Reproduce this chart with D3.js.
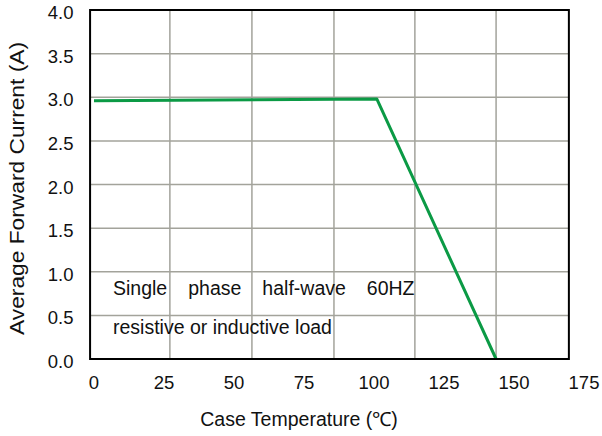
<!DOCTYPE html>
<html lang="en">
<head>
  <meta charset="utf-8" />
  <title>Average Forward Current vs Case Temperature</title>
  <script src="https://d3js.org/d3.v7.min.js"></script>
  <style>
    html, body {
      margin: 0;
      padding: 0;
      background: #fff;
      overflow: hidden;
      font-family: "Liberation Sans", Arial, sans-serif;
    }
    .tick-label { font-size: 18.5px; fill: #111; }
    .axis-title { font-size: 19.5px; fill: #111; }
    .note { font-size: 19.5px; fill: #111; }
    .grid { stroke: #a3a39b; stroke-width: 1.5px; }
    .frame { fill: none; stroke: #000; stroke-width: 2px; }
    .curve { fill: none; stroke: #0b9a45; stroke-width: 3px; stroke-linejoin: round; }
  </style>
</head>
<body>
<script>
/* data */
const xTicks = [0, 25, 50, 75, 100, 125, 150, 175];
const yTicks = [0, 0.5, 1.0, 1.5, 2.0, 2.5, 3.0, 3.5, 4.0];
// the grid of the scanned sheet does not line up with its labels
const xGrid = [27.1, 56.4, 85.7, 114.6, 143.6];
const xFrame = [-1.4, 169.6];
const curveTemp = [0, 101, 143.6];
const curveAmp = [2.96, 2.98, 0];
const noteLines = ["Single phase half-wave 60HZ", "resistive or inductive load"];

const width = 602, height = 436;

const svg = d3.select("body").append("svg")
  .attr("width", width)
  .attr("height", height);

const x = d3.scaleLinear().domain([0, 175]).range([94, 584]);
const y = d3.scaleLinear().domain([0, 4]).range([359, 10]);

// grid
svg.selectAll(".gx").data(xGrid).enter().append("line")
  .attr("class", "grid")
  .attr("x1", d => x(d)).attr("x2", d => x(d))
  .attr("y1", y(4)).attr("y2", y(0));

svg.selectAll(".gy").data(yTicks.slice(1, -1)).enter().append("line")
  .attr("class", "grid")
  .attr("x1", x(xFrame[0])).attr("x2", x(xFrame[1]))
  .attr("y1", d => y(d)).attr("y2", d => y(d));

// note text
svg.append("text").attr("class", "note")
  .attr("x", 113).attr("y", y(0.5) - 20)
  .style("word-spacing", "15.6px")
  .text(noteLines[0]);
svg.append("text").attr("class", "note")
  .attr("x", 113).attr("y", y(0.5) + 19)
  .text(noteLines[1]);

// derating curve
const pts = curveTemp.map((t, i) => [t, curveAmp[i]]);
svg.append("path")
  .datum(pts)
  .attr("class", "curve")
  .attr("d", d3.line().x(d => x(d[0])).y(d => y(d[1])));

// frame
svg.append("rect").attr("class", "frame")
  .attr("x", x(xFrame[0])).attr("y", y(4))
  .attr("width", x(xFrame[1]) - x(xFrame[0]))
  .attr("height", y(0) - y(4));

// tick labels
svg.selectAll(".xl").data(xTicks).enter().append("text")
  .attr("class", "tick-label")
  .attr("x", d => x(d)).attr("y", 389)
  .attr("text-anchor", "middle")
  .text(d => d);

svg.selectAll(".yl").data(yTicks).enter().append("text")
  .attr("class", "tick-label")
  .attr("x", 73.5).attr("y", d => y(d) + 9)
  .attr("text-anchor", "end")
  .text(d => d.toFixed(1));

// axis titles
svg.append("text").attr("class", "axis-title")
  .attr("x", 299).attr("y", 426)
  .attr("text-anchor", "middle")
  .text("Case Temperature (℃)");

svg.append("text").attr("class", "axis-title")
  .attr("transform", "translate(24,188.5) rotate(-90)")
  .attr("text-anchor", "middle")
  .attr("textLength", 293)
  .attr("lengthAdjust", "spacingAndGlyphs")
  .text("Average Forward Current (A)");
</script>
</body>
</html>
